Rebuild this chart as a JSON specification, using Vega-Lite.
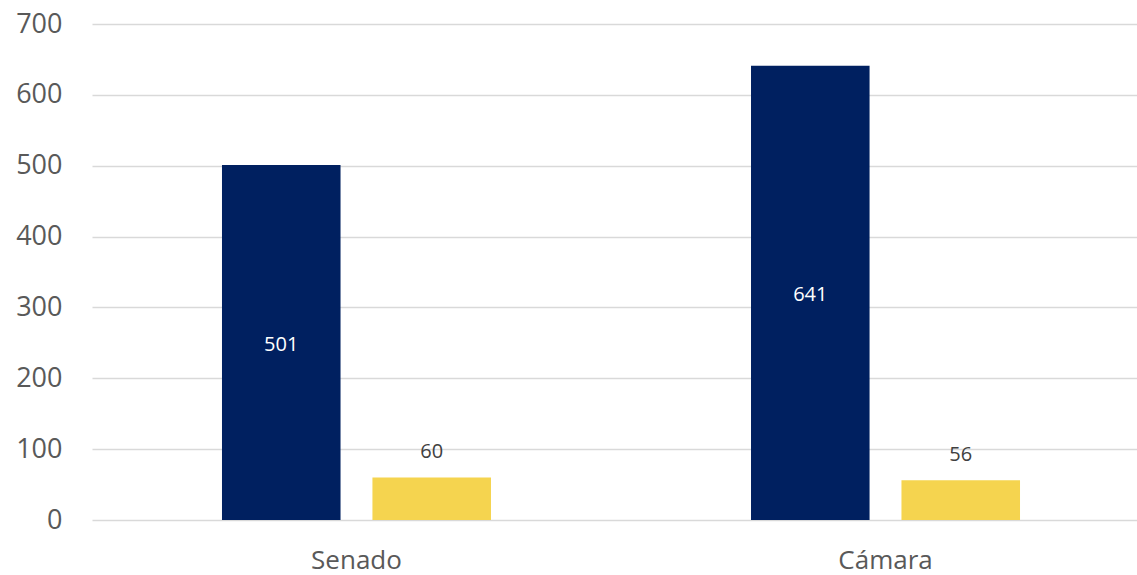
{
  "$schema": "https://vega.github.io/schema/vega-lite/v6.json",
  "width": 1058,
  "height": 496,
  "autosize": {"type": "none"},
  "padding": {"left": 92, "top": 24, "right": 0, "bottom": 55},
  "background": "white",
  "config": {
    "view": {"stroke": null},
    "font": "Open Sans",
    "axis": {"labelFont": "Open Sans", "labelColor": "#595959"}
  },
  "data": {
    "values": [
      {"camara": "Senado", "serie": "Serie 1", "valor": 501},
      {"camara": "Senado", "serie": "Serie 2", "valor": 60},
      {"camara": "Cámara", "serie": "Serie 1", "valor": 641},
      {"camara": "Cámara", "serie": "Serie 2", "valor": 56}
    ]
  },
  "encoding": {
    "x": {
      "field": "camara", "type": "nominal", "sort": ["Senado", "Cámara"],
      "scale": {"paddingInner": 0.4915, "paddingOuter": 0.2457},
      "axis": {"title": null, "labelAngle": 0, "labelFontSize": 26, "labelPadding": 27, "ticks": false, "domain": false, "grid": false}
    },
    "xOffset": {"field": "serie", "type": "nominal", "scale": {"paddingInner": 0.212, "paddingOuter": 0}}
  },
  "layer": [
    {
      "layer": [
        {
          "mark": {"type": "bar"},
          "encoding": {
            "y": {
              "field": "valor", "type": "quantitative",
              "scale": {"domain": [0, 700], "nice": false},
              "axis": {"title": null, "values": [0,100,200,300,400,500,600,700], "labelFontSize": 27, "labelPadding": 30, "ticks": false, "domain": false, "grid": true, "gridColor": "#d9d9d9", "gridWidth": 1.5}
            },
            "color": {"field": "serie", "type": "nominal", "scale": {"domain": ["Serie 1", "Serie 2"], "range": ["#002060", "#F5D44F"]}, "legend": null}
          }
        },
        {
          "transform": [{"filter": "datum.serie === 'Serie 2'"}],
          "mark": {"type": "text", "color": "#404040", "fontSize": 20, "baseline": "middle", "dy": -25},
          "encoding": {
            "y": {"field": "valor", "type": "quantitative"},
            "text": {"field": "valor", "type": "quantitative"}
          }
        }
      ]
    },
    {
      "transform": [{"filter": "datum.serie === 'Serie 1'"}],
      "mark": {"type": "text", "color": "white", "fontSize": 20, "baseline": "middle", "dy": 2},
      "encoding": {
        "y": {"field": "valor", "type": "quantitative", "scale": {"domain": [0, 1400], "nice": false}, "axis": null},
        "text": {"field": "valor", "type": "quantitative"}
      }
    }
  ],
  "resolve": {"scale": {"y": "independent"}}
}
